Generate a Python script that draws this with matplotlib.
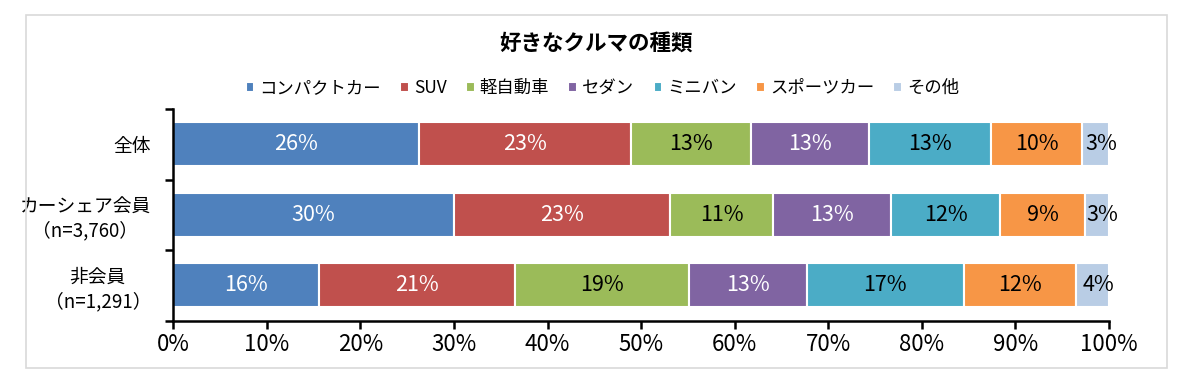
import matplotlib
matplotlib.use('Agg')
import matplotlib.pyplot as plt
from matplotlib.patches import Rectangle
from matplotlib.ticker import FixedLocator, PercentFormatter

plt.rcParams['font.family'] = ['Noto Sans CJK JP', 'DejaVu Sans']

title = '好きなクルマの種類'
groups = ['全体', 'カーシェア会員\n（n=3,760）', '非会員\n（n=1,291）']
types = ['コンパクトカー', 'SUV', '軽自動車', 'セダン', 'ミニバン', 'スポーツカー', 'その他']
share_all = [26.3, 22.6, 12.8, 12.6, 13.1, 9.7, 2.9]
share_member = [30.0, 23.1, 11.0, 12.6, 11.7, 9.0, 2.6]
share_nonmember = [15.6, 20.9, 18.6, 12.6, 16.8, 12.0, 3.5]
colors = ['#4F81BD', '#C0504D', '#9BBB59', '#8064A2', '#4BACC6', '#F79646', '#B9CDE5']
label_colors = ['white', 'white', 'black', 'white', 'black', 'black', 'black']

rows = [share_all, share_member, share_nonmember]

fig = plt.figure(figsize=(12, 3.85), dpi=100)
ax = fig.add_axes([0.1444, 0.167, 0.7798, 0.5494])

# gray frame around the whole chart
fig.patches.append(Rectangle((26 / 1200, 1 - 368 / 385), (1167 - 26) / 1200, (368 - 15) / 385,
                             transform=fig.transFigure, fill=False, edgecolor='#D9D9D9', lw=1.2))

ypos = list(range(len(groups)))
left = [0.0] * len(groups)
for i, name in enumerate(types):
    vals = [r[i] for r in rows]
    bars = ax.barh(ypos, vals, left=left, height=0.625, color=colors[i],
                   edgecolor='white', linewidth=1.5, label=name)
    for b, v in zip(bars, vals):
        # small last segment: label sits a bit to the right, like the original
        dx = 0.6 if i == len(types) - 1 else 0
        ax.text(b.get_x() + b.get_width() / 2 + dx, b.get_y() + b.get_height() / 2,
                '%.0f%%' % v, ha='center', va='center', fontsize=15.5,
                color=label_colors[i])
    left = [l + v for l, v in zip(left, vals)]

ax.set_xlim(0, 100)
ax.set_ylim(2.5, -0.5)
ax.xaxis.set_major_locator(FixedLocator(range(0, 101, 10)))
ax.xaxis.set_major_formatter(PercentFormatter(decimals=0))
ax.set_yticks(ypos)
ax.set_yticklabels(groups, multialignment='center')
ax.yaxis.set_minor_locator(FixedLocator([-0.5, 0.5, 1.5, 2.5]))
ax.tick_params(axis='y', which='major', length=0, pad=16, labelsize=13.5)
ax.tick_params(axis='y', which='minor', length=6, width=1.8)
ax.tick_params(axis='x', length=6, width=1.8, labelsize=16, pad=3)
for s in ['top', 'right']:
    ax.spines[s].set_visible(False)
for s in ['left', 'bottom']:
    ax.spines[s].set_linewidth(1.8)

fig.text(0.497, 1 - 43 / 385, title, ha='center', va='center',
         fontsize=15.5, fontweight='bold')

fig.legend(loc='center', bbox_to_anchor=(0.502, 1 - 88 / 385), ncol=7, frameon=False,
           fontsize=12.5, handlelength=0.5, handleheight=0.5, handletextpad=0.3,
           columnspacing=1.1)

fig.savefig('out.png', dpi=100)
